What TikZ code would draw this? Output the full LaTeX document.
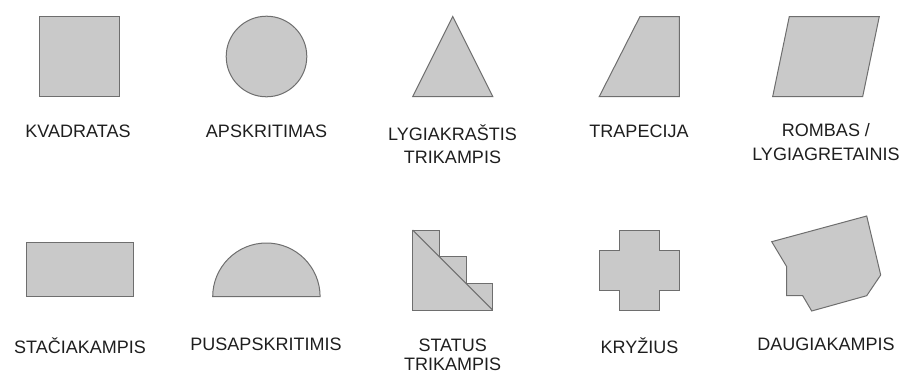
\documentclass[tikz,border=0pt]{standalone}
\usepackage{fontspec}
\setmainfont{Liberation Sans}
\definecolor{shapefill}{HTML}{C9C9C9}
\definecolor{shapeline}{HTML}{6E6E6E}
\definecolor{labeltext}{HTML}{1E1E1E}
\begin{document}
\begin{tikzpicture}[x=1pt,y=-1pt,
  figure/.style={fill=shapefill,draw=shapeline,line width=1pt,line join=miter},
  lbl/.style={anchor=base,inner sep=0pt,text=labeltext,font=\fontsize{18}{23.3}\selectfont},
  lbltight/.style={anchor=base,inner sep=0pt,text=labeltext,font=\fontsize{18}{19}\selectfont}]
\useasboundingbox (0,0) rectangle (903,372);
% row 1 shapes
\path[figure] (39.5,16.5) rectangle (119.5,96.5);
\path[figure] (266.5,56.5) circle[radius=40.3];
\path[figure] (412.7,96.5) -- (452.7,16.5) -- (492.7,96.5) -- cycle;
\path[figure] (599.3,96.5) -- (640,16.5) -- (679.3,16.5) -- (679.3,96.5) -- cycle;
\path[figure] (772.7,96.5) -- (789.3,16.5) -- (879.3,16.5) -- (862.7,96.5) -- cycle;
% row 1 labels
\node[lbl] (kvadratas) at (78,137) {KVADRATAS};
\node[lbl] (apskritimas) at (266.5,137) {APSKRITIMAS};
\node[lbl] (lygiakrastis) at (452.5,140) {\begin{tabular}[t]{@{}c@{}}LYGIAKRAŠTIS\\TRIKAMPIS\end{tabular}};
\node[lbl] (trapecija) at (639,137) {TRAPECIJA};
\node[lbl] (rombas) at (826,136.7) {\begin{tabular}[t]{@{}c@{}}ROMBAS /\\LYGIAGRETAINIS\end{tabular}};
% row 2 shapes
\path[figure] (26,242.7) rectangle (133.3,296.7);
\path[figure] (212.7,296.7) arc[start angle=180,end angle=360,radius=53.7] -- cycle;
\path[figure] (412.7,230) -- (439.3,230) -- (439.3,256.7) -- (466,256.7) -- (466,283.3)
  -- (492.7,283.3) -- (492.7,310) -- (412.7,310) -- cycle;
\draw[shapeline,line width=1pt] (412.7,230) -- (492.7,310);
\path[figure] (619.3,230) -- (659.3,230) -- (659.3,250) -- (679.3,250) -- (679.3,290.7)
  -- (659.3,290.7) -- (659.3,310.7) -- (619.3,310.7) -- (619.3,290.7) -- (599.3,290.7)
  -- (599.3,250) -- (619.3,250) -- cycle;
\path[figure] (771.7,241.7) -- (866.7,216) -- (880.7,275) -- (866.7,295.7) -- (811.7,311)
  -- (802.7,295.7) -- (786.7,295.7) -- (786.7,266.7) -- cycle;
% row 2 labels
\node[lbl] (staciakampis) at (80,353.3) {STAČIAKAMPIS};
\node[lbl] (pusapskritimis) at (266,350) {PUSAPSKRITIMIS};
\node[lbltight] (status) at (452.7,351) {\begin{tabular}[t]{@{}c@{}}STATUS\\TRIKAMPIS\end{tabular}};
\node[lbl] (kryzius) at (639.5,353.5) {KRYŽIUS};
\node[lbl] (daugiakampis) at (826,350) {DAUGIAKAMPIS};
\end{tikzpicture}
\end{document}
